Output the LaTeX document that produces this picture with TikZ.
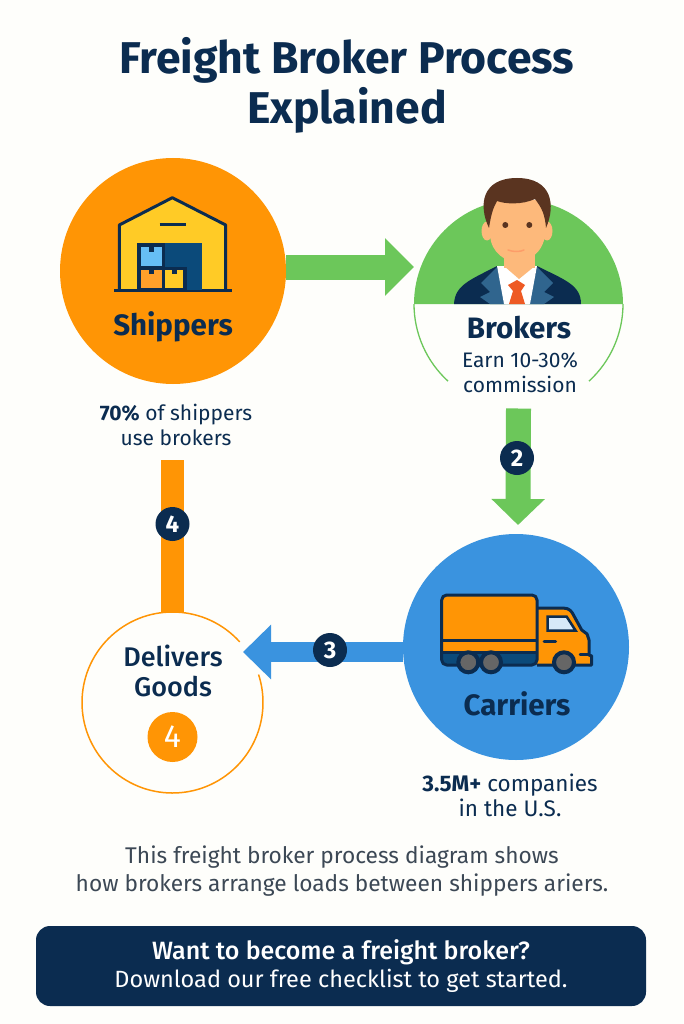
\documentclass[tikz,border=0pt]{standalone}
\usepackage{fontspec}
\setmainfont{Fira Sans}
\newfontfamily\mediumfont{Fira Sans Medium}
\usetikzlibrary{arrows.meta}
\definecolor{navy}{HTML}{0B2C50}
\definecolor{deepblue}{HTML}{0B4A7A}
\definecolor{orangefill}{HTML}{FF9505}
\definecolor{greenfill}{HTML}{6CC75A}
\definecolor{bluefill}{HTML}{3A93DF}
\definecolor{yellowfill}{HTML}{FFCB26}
\definecolor{paper}{HTML}{FEFEFB}
\definecolor{skin}{HTML}{FDB97B}
\definecolor{hairbrown}{HTML}{5A3420}
\definecolor{bodytext}{HTML}{3C4855}
\definecolor{boxorange}{HTML}{FFA02A}
\definecolor{boxblue}{HTML}{66BEF5}
\definecolor{tiered}{HTML}{EE5A24}
\tikzset{
  blob/.style={circle,inner sep=0pt,outer sep=0pt,minimum size=#1},
  badge/.style={circle,fill=navy,text=white,inner sep=0pt,minimum size=34pt,font=\fontsize{24}{24}\selectfont\bfseries},
  heading/.style={text=navy,font=\fontsize{29.5}{30}\selectfont\bfseries},
  caption/.style={text=navy,align=center,font=\fontsize{21}{25}\selectfont},
  icon/.style={draw=navy,line width=3pt,line join=round},
}
\begin{document}
\begin{tikzpicture}[x=1pt,y=-1pt]
\useasboundingbox (0,0) rectangle (683,1024);
\fill[paper] (0,0) rectangle (683,1024);
\node (title) at (347,85) [text=navy,align=center,font=\fontsize{44.5}{50}\selectfont\bfseries]{Freight Broker Process\\Explained};

\node (shippers) at (173,271) [blob=226pt,fill=orangefill]{};
\node (brokers) at (518.5,304) [blob=209pt]{};
\node (carriers) at (516,647) [blob=226pt,fill=bluefill]{};
\node (delivers) at (172.5,702.5) [blob=181pt]{};
\coordinate (tiptwo) at (518,525);
\coordinate (tipthree) at (243,652);
\coordinate (bartop) at (172.5,460);

\fill[greenfill] (brokers.east) arc[start angle=0,end angle=180,radius=104.5pt] -- cycle;
\draw[greenfill,line width=1.3pt] (brokers.west) arc[start angle=180,end angle=227.6,radius=104.5pt];
\draw[greenfill,line width=1.3pt] (brokers.east) arc[start angle=360,end angle=312.4,radius=104.5pt];
\draw[orangefill,line width=1.5pt] (delivers.42) arc[start angle=42,end angle=378,radius=90.5pt];

\draw[greenfill,line width=25pt,-{Triangle[length=29pt,width=56pt]}] (shippers.2) -- (brokers.west |- shippers.2);
\draw[greenfill,line width=25pt,-{Triangle[length=26pt,width=52pt]}] (brokers.south) -- (tiptwo);
\draw[bluefill,line width=20pt,-{Triangle[length=28pt,width=53pt]}] (carriers.west |- tipthree) -- (tipthree);
\draw[orangefill,line width=23pt] (bartop) -- (delivers.north);

\node (stepfour) at (172.5,524) [badge]{4};
\node (steptwo) at (517,458) [badge]{2};
\node (stepthree) at (330,650) [badge]{3};

\fill[yellowfill] (119.3,290) -- (119.3,225) -- (172.3,197.7) -- (225.7,225) -- (225.7,290) -- cycle;
\draw[icon] (119.3,290) -- (119.3,225) -- (172.3,197.7) -- (225.7,225) -- (225.7,290);
\draw[icon] (114,290) -- (232,290);
\draw[icon] (159.5,224.5) -- (186,224.5);
\fill[deepblue] (136.7,243.3) rectangle (202.3,290);
\fill[navy] (136.7,243.3) rectangle (165,290);
\fill[navy] (162,266.5) rectangle (187,290);
\fill[boxblue] (141,246.7) rectangle (161.7,266);
\fill[navy] (148.5,246.7) rectangle (154,252);
\fill[boxorange] (141,270) rectangle (161.7,288.3);
\fill[navy] (148.5,270) rectangle (154,274);
\fill[yellowfill] (165.3,270) rectangle (183.3,288.3);
\fill[navy] (171.5,270) rectangle (177,274);

\fill[navy] (454,304) .. controls (455,285) and (470,280) .. (497,266) -- (537,266) .. controls (565,280) and (581,285) .. (581,304) -- cycle;
\fill[deepblue!85!white] (497,267) -- (481,283) -- (490,292) -- (480,297) -- (490,304) -- (505,304) -- cycle;
\fill[deepblue!85!white] (537,267) -- (553,283) -- (544,292) -- (554,297) -- (544,304) -- (529,304) -- cycle;
\fill[white] (497,266) -- (537,266) -- (530,304) -- (504,304) -- cycle;
\fill[skin] (504,250) rectangle (535,268);
\fill[skin] (504,266) -- (535,266) -- (519,279) -- cycle;
\fill[skin] (487,231) ellipse[x radius=5.5pt,y radius=9.5pt];
\fill[skin] (547,231) ellipse[x radius=5.5pt,y radius=9.5pt];
\fill[skin] (490,200) -- (545,200) -- (545,235) .. controls (543,253) and (528,262) .. (517,262) .. controls (506,262) and (491,253) .. (490,235) -- cycle;
\fill[hairbrown] (489,228) .. controls (478,205) and (482,178) .. (517,178) .. controls (552,178) and (556,205) .. (546,228) .. controls (545,215) and (542,208) .. (535,199) .. controls (522,205) and (505,204) .. (497,201) .. controls (493,208) and (491,215) .. (489,228) -- cycle;
\fill[hairbrown] (505.3,225) circle[radius=3pt];
\fill[hairbrown] (529.3,225) circle[radius=3pt];
\draw[skin!85!red,line width=1.5pt,line cap=round] (508,250) .. controls (513,252) and (520,252) .. (524,250);
\fill[tiered] (508,285) -- (517,280) -- (525,285) -- (521,291) -- (525,304) -- (509,304) -- (513,291) -- cycle;

\fill[orangefill] (441.7,595) rectangle (537,665);
\fill[orangefill] (537,608) -- (566.7,608) -- (573,612) -- (581.7,630) -- (588.3,635) -- (589,655) -- (591.7,657) -- (591.7,665) -- (537,665) -- cycle;
\fill[deepblue] (443,653.3) rectangle (536,665);
\draw[icon] (537,608) -- (563,608) .. controls (570,608) and (572,612) .. (574,616) -- (581.7,630) -- (587,634) -- (589,640) -- (589,655) -- (591.7,656) -- (591.7,665) -- (537,665);
\draw[icon,rounded corners=5pt] (441.7,665) -- (441.7,595) -- (537,595) -- (537,665) -- cycle;
\draw[icon] (441.7,640.5) -- (537,640.5);
\draw[icon] (441.7,652.5) -- (537,652.5);
\fill[bluefill!20!white,draw=navy,line width=2.5pt] (547.7,616.7) -- (566.7,616.7) -- (575.7,630.7) -- (547.7,630.7) -- cycle;
\draw[navy,line width=3pt,line cap=round] (544,641.7) -- (555.5,641.7);
\draw[navy,line width=2.5pt,line cap=round] (580,654.5) -- (588,654.5);
\foreach \wheelx in {468.3,491,564}{
  \fill[gray!80!black,draw=navy,line width=4pt] (\wheelx,662.3) circle[radius=10pt];
}

\node (shipperslabel) at (173,327) [heading]{Shippers};
\node (brokerslabel) at (519,328) [heading]{Brokers};
\node (carrierslabel) at (517,704) [heading]{Carriers};
\node (brokersnote) at (520,373) [caption]{Earn 10-30\%\\commission};
\node (shippersnote) at (176,425) [caption]{\textbf{70\%} of shippers\\use brokers};
\node (carriersnote) at (510,795) [caption,font=\fontsize{22.5}{25}\selectfont]{\textbf{3.5M+} companies\\in the U.S.};
\node (deliverslabel) at (173,671) [text=navy,align=center,font=\fontsize{27}{30}\mediumfont]{Delivers\\Goods};
\node (delivercount) at (172.5,737) [blob=50pt,fill=orangefill,text=white,font=\fontsize{32}{32}\selectfont]{4};

\node (summary) at (342,871) [text=bodytext,align=center,font=\fontsize{22.7}{28}\selectfont]{This freight broker process diagram shows\\how brokers arrange loads between shippers ariers.};
\node (banner) at (341,966) [fill=navy,rounded corners=14pt,minimum width=610pt,minimum height=80pt,text=white,align=center,font=\fontsize{23.5}{28}\selectfont]{{\mediumfont\fontsize{25}{28}\selectfont Want to become a freight broker?}\\Download our free checklist to get started.};
\end{tikzpicture}
\end{document}
